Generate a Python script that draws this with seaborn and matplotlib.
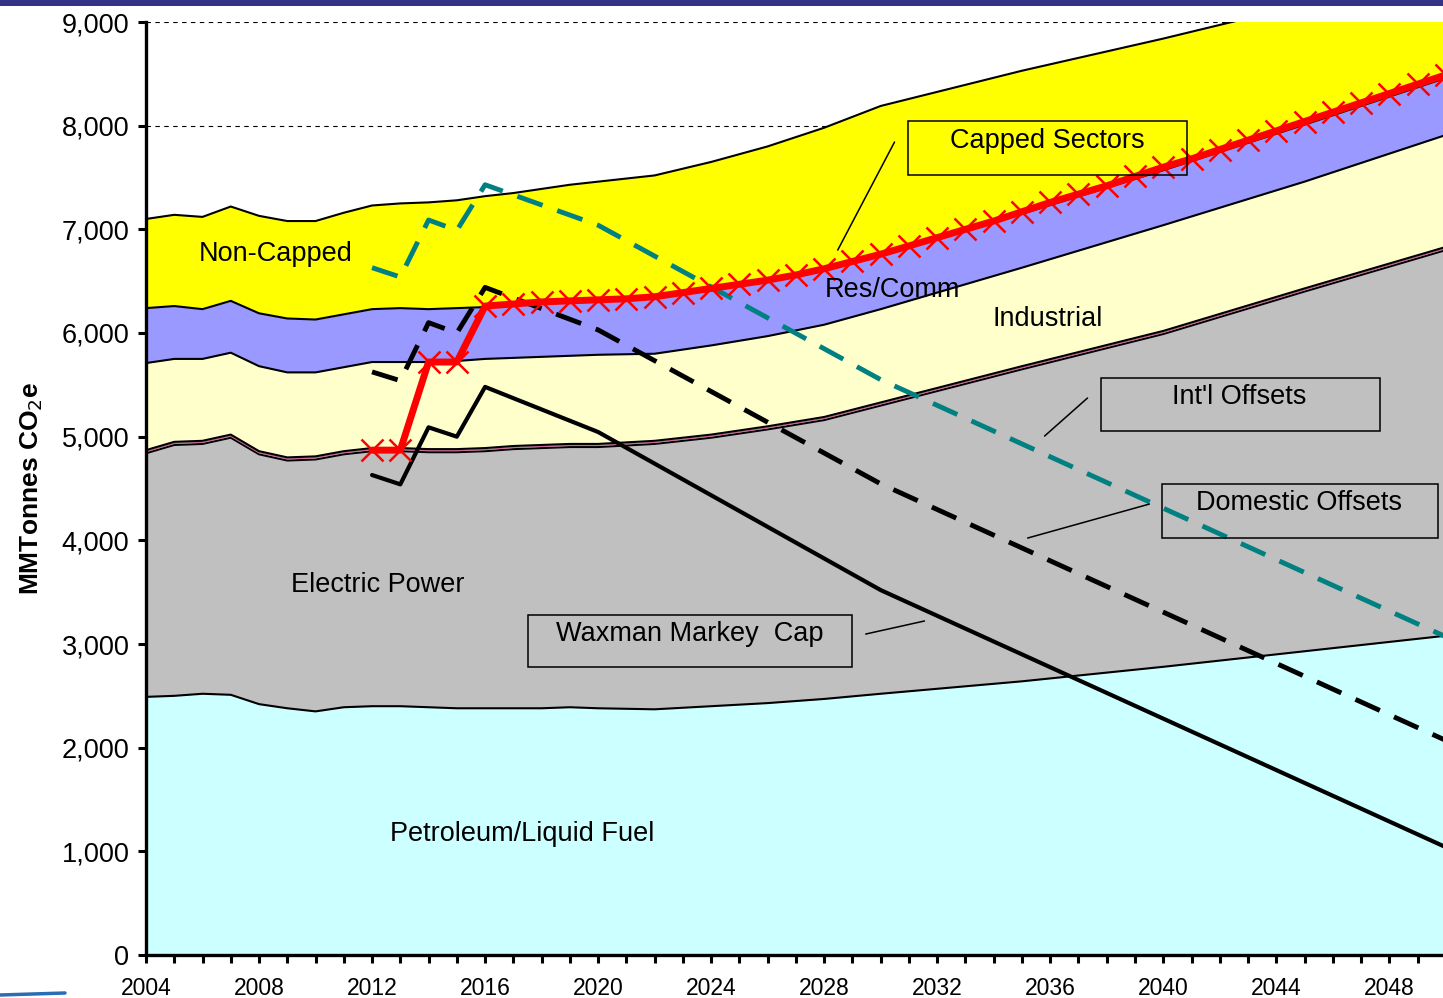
import matplotlib
matplotlib.use("Agg")
import matplotlib.pyplot as plt
import matplotlib.ticker as mticker
from matplotlib.patches import Rectangle
from matplotlib.lines import Line2D
import numpy as np
import pandas as pd
import seaborn as sns

# ---- data (MMTonnes CO2e) ----
years = [2004, 2005, 2006, 2007, 2008, 2009, 2010, 2011, 2012, 2013, 2014, 2015,
         2016, 2017, 2018, 2019, 2020, 2022, 2024, 2026, 2028, 2030, 2035, 2040,
         2045, 2050]
petroleum = [2490, 2500, 2520, 2510, 2420, 2380, 2350, 2390, 2400, 2400, 2390, 2380,
             2380, 2380, 2380, 2390, 2380, 2370, 2400, 2430, 2470, 2520, 2640, 2780,
             2930, 3080]
electric_power = [2350, 2420, 2410, 2480, 2410, 2390, 2430, 2440, 2460, 2460, 2460, 2470,
                  2480, 2500, 2510, 2510, 2520, 2560, 2590, 2640, 2690, 2780, 3010, 3210,
                  3470, 3720]
domestic_offsets = [15, 15, 15, 15, 15, 15, 15, 15, 15, 15, 15, 15,
                    15, 15, 15, 15, 15, 15, 15, 15, 15, 15, 15, 15,
                    15, 15]
intl_offsets = [15, 15, 15, 15, 15, 15, 15, 15, 15, 15, 15, 15,
                15, 15, 15, 15, 15, 15, 15, 15, 15, 15, 15, 15,
                15, 15]
industrial = [840, 800, 790, 790, 820, 820, 810, 810, 830, 830, 840, 850,
              860, 850, 850, 850, 860, 840, 860, 870, 890, 900, 950, 1020,
              1030, 1080]
res_comm = [530, 510, 480, 500, 510, 520, 510, 510, 510, 520, 510, 510,
            500, 510, 510, 520, 520, 540, 530, 530, 520, 520, 520, 530,
            550, 550]
non_capped = [860, 880, 890, 910, 940, 940, 950, 980, 1000, 1010, 1030, 1040,
              1070, 1080, 1110, 1130, 1150, 1180, 1240, 1300, 1380, 1440, 1380, 1270,
              1160, 1020]

cap_years = [2012, 2013, 2014, 2015, 2016, 2020, 2030, 2050]
waxman_markey_cap = [4630, 4540, 5090, 5000, 5480, 5045, 3520, 1040]
cap_plus_domestic = [5625, 5540, 6100, 6000, 6440, 6030, 4545, 2070]
cap_plus_all_offsets = [6630, 6540, 7090, 6990, 7430, 7040, 5550, 3070]

capped_years = list(range(2012, 2051))
capped_sectors = [4870, 4870, 5720, 5720, 6260, 6280, 6300, 6310, 6320, 6330,
                  6350, 6390, 6430, 6470, 6510, 6560, 6620, 6690, 6760, 6840,
                  6920, 7000, 7080, 7170, 7260, 7340, 7420, 7510, 7600, 7680,
                  7770, 7860, 7950, 8040, 8130, 8220, 8310, 8400, 8490]

band_colors = ["#CCFFFF", "#C0C0C0", "#CC99CC", "#C0C0C0", "#FFFFCC", "#9999FF", "#FFFF00"]
edge_colors = ["black", "black", "#CC6699", "black", "black", "black", "black"]

sns.set_theme(style="white")
plt.rcParams["font.family"] = ["Liberation Sans", "DejaVu Sans"]
plt.rcParams["text.color"] = "black"
plt.rcParams["axes.labelcolor"] = "black"
plt.rcParams["xtick.color"] = "black"
plt.rcParams["ytick.color"] = "black"

fig = plt.figure(figsize=(14.43, 9.98), dpi=100)
ax = fig.add_axes([146 / 1443, 1 - 955 / 998, 1 - 146 / 1443, (955 - 22) / 998])

bands = [petroleum, electric_power, domestic_offsets, intl_offsets,
         industrial, res_comm, non_capped]
ax.stackplot(years, *bands, colors=band_colors, linewidth=0, zorder=2)

# boundary lines of the stacked areas
tops = np.cumsum(np.array(bands), axis=0)
for top, ec in zip(tops, edge_colors):
    ax.plot(years, top, color=ec, lw=1.5 if ec == "black" else 0.9, zorder=3)

# cap lines
cap_df = pd.DataFrame({"year": cap_years, "cap": waxman_markey_cap,
                       "dom": cap_plus_domestic, "all": cap_plus_all_offsets})
sns.lineplot(data=cap_df, x="year", y="all", color="#008080", lw=3.5,
             linestyle=(0, (5.5, 3.2)), ax=ax, zorder=5)
sns.lineplot(data=cap_df, x="year", y="dom", color="black", lw=3.5,
             linestyle=(0, (5.5, 3.2)), ax=ax, zorder=5)
sns.lineplot(data=cap_df, x="year", y="cap", color="black", lw=3, ax=ax, zorder=5)

sns.lineplot(x=capped_years, y=capped_sectors, color="red", lw=5, marker="x",
             markersize=16, markeredgewidth=1.8, markeredgecolor="red", ax=ax, zorder=6)

ax.set_xlim(2004, 2049.9)
ax.set_ylim(0, 9000)
ax.yaxis.set_major_locator(mticker.MultipleLocator(1000))
ax.yaxis.set_major_formatter(mticker.FuncFormatter(lambda v, p: f"{int(v):,}"))
ax.xaxis.set_major_locator(mticker.MultipleLocator(4))
ax.xaxis.set_minor_locator(mticker.MultipleLocator(1))
ax.xaxis.set_major_formatter(mticker.FuncFormatter(lambda v, p: f"{int(v)}"))

ax.yaxis.grid(True, linestyle=(0, (4, 4)), color="black", lw=0.8)
ax.set_axisbelow(True)

for side in ["top", "right"]:
    ax.spines[side].set_visible(False)
for side in ["left", "bottom"]:
    ax.spines[side].set_linewidth(2.4)
    ax.spines[side].set_color("black")
    ax.spines[side].set_zorder(7)

ax.tick_params(axis="y", which="major", direction="out", length=6, width=2.2,
               labelsize=19.5, pad=6, left=True, colors="black")
ax.tick_params(axis="x", which="both", direction="out", length=6, width=2.2,
               labelsize=16.5, pad=10, bottom=True, colors="black")

ax.set_xlabel("")
ax.set_ylabel("MMTonnes CO$_2$e", fontsize=19, fontweight="bold", labelpad=12,
              color="black")

# ---- annotations ----
fs = 19.5
ax.text(2008.6, 6762, "Non-Capped", fontsize=fs, ha="center", va="center", zorder=8)
ax.text(2030.4, 6415, "Res/Comm", fontsize=fs, ha="center", va="center", zorder=8)
ax.text(2035.9, 6135, "Industrial", fontsize=fs, ha="center", va="center", zorder=8)
ax.text(2012.2, 3569, "Electric Power", fontsize=fs, ha="center", va="center", zorder=8)
ax.text(2017.3, 1167, "Petroleum/Liquid Fuel", fontsize=fs, ha="center", va="center", zorder=8)

boxes = [
    ("Capped Sectors", (2030.95, 7524), 9.9, 521, (2035.9, 7850),
     [(2030.49, 2028.48), (7842, 6800)]),
    ("Int'l Offsets", (2037.78, 5055), 9.9, 511, (2042.7, 5385),
     [(2037.32, 2035.80), (5373, 5006)]),
    ("Domestic Offsets", (2039.94, 4022), 9.79, 521, (2044.82, 4360),
     [(2039.51, 2035.20), (4350, 4022)]),
    ("Waxman Markey  Cap", (2017.51, 2778), 11.46, 502, (2023.24, 3100),
     [(2029.47, 2031.55), (3096, 3222)]),
]
for label, xy, w, h, txy, leader in boxes:
    ax.add_patch(Rectangle(xy, w, h, fill=False, edgecolor="black", lw=1.1,
                           zorder=8, clip_on=False))
    ax.text(txy[0], txy[1], label, fontsize=fs, ha="center", va="center", zorder=8)
    ax.plot(leader[0], leader[1], color="black", lw=1.1, zorder=8)

# slide decorations: top bar and logo swoosh
fig.patches.append(Rectangle((0, 1 - 6 / 998), 1, 6 / 998, transform=fig.transFigure,
                             facecolor="#333388", edgecolor="none", zorder=10))
fig.lines.append(Line2D([0, 65 / 1443], [1 - 995 / 998, 1 - 993 / 998],
                        transform=fig.transFigure, color="#2a6db5", lw=2.5))

fig.savefig("out.png", dpi=100)
